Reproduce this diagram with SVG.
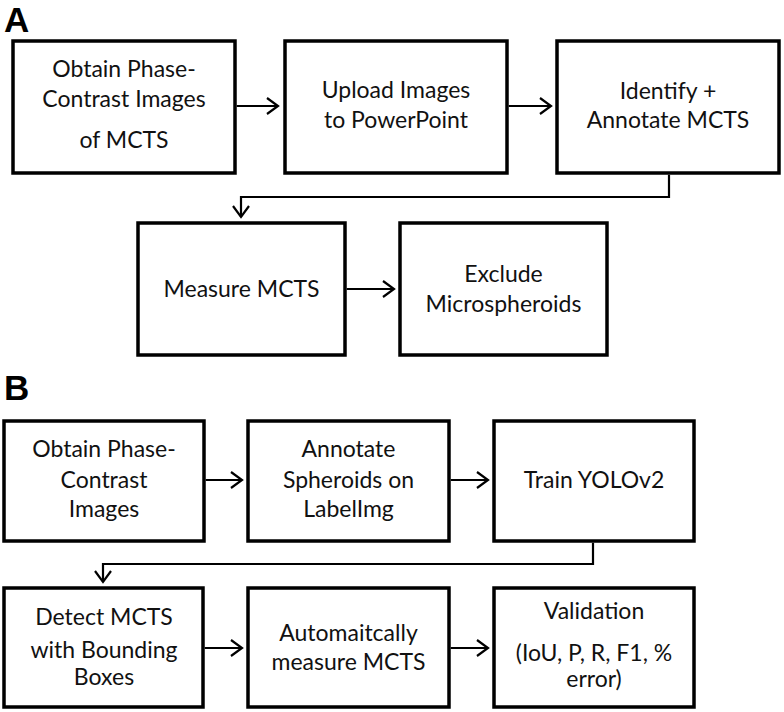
<svg xmlns="http://www.w3.org/2000/svg" width="784" height="712" viewBox="0 0 784 712">
<defs>
<style>
.box{fill:#fff;stroke:#000;stroke-width:3.5}
.t{font-family:Lato,"Liberation Sans",sans-serif;font-size:23px;fill:#111;text-anchor:middle}
.lbl{font-family:"Liberation Sans",Arial,sans-serif;font-weight:bold;font-size:35px;fill:#000}
.c{fill:none;stroke:#000;stroke-width:2.2}
</style>
<marker id="ah" markerWidth="14" markerHeight="18" refX="12" refY="9" orient="auto" markerUnits="userSpaceOnUse">
<path d="M1,1 L12,9 L1,17" fill="none" stroke="#000" stroke-width="2.2"/>
</marker>
</defs>
<rect width="784" height="712" fill="#fff"/>
<text class="lbl" x="4" y="32">A</text>
<text class="lbl" x="4" y="400">B</text>

<g id="a1"><rect class="box" x="13" y="41" width="222" height="132"/>
<text class="t" x="124" y="77">Obtain Phase-</text><text class="t" x="124" y="107">Contrast Images</text><text class="t" x="124" y="148">of MCTS</text></g>
<g id="a2"><rect class="box" x="285" y="41" width="222" height="132"/>
<text class="t" x="396" y="98">Upload Images</text><text class="t" x="396" y="128">to PowerPoint</text></g>
<g id="a3"><rect class="box" x="557" y="41" width="222" height="132"/>
<text class="t" x="668" y="99">Identify +</text><text class="t" x="668" y="128">Annotate MCTS</text></g>
<g id="a4"><rect class="box" x="138" y="223" width="207" height="132"/>
<text class="t" x="241.5" y="297">Measure MCTS</text></g>
<g id="a5"><rect class="box" x="400" y="223" width="207" height="132"/>
<text class="t" x="503.5" y="282">Exclude</text><text class="t" x="503.5" y="312">Microspheroids</text></g>

<g id="b1"><rect class="box" x="4" y="421" width="200" height="120"/>
<text class="t" x="104" y="457">Obtain Phase-</text><text class="t" x="104" y="488">Contrast</text><text class="t" x="104" y="517">Images</text></g>
<g id="b2"><rect class="box" x="248" y="421" width="201" height="120"/>
<text class="t" x="348.5" y="457">Annotate</text><text class="t" x="348.5" y="488">Spheroids on</text><text class="t" x="348.5" y="517">LabelImg</text></g>
<g id="b3"><rect class="box" x="494" y="421" width="200" height="120"/>
<text class="t" x="594" y="488">Train YOLOv2</text></g>
<g id="b4"><rect class="box" x="4" y="588" width="199" height="119"/>
<text class="t" x="104" y="625">Detect MCTS</text><text class="t" x="104" y="658">with Bounding</text><text class="t" x="104" y="685">Boxes</text></g>
<g id="b5"><rect class="box" x="248" y="588" width="201" height="119"/>
<text class="t" x="348.5" y="641">Automaitcally</text><text class="t" x="348.5" y="670">measure MCTS</text></g>
<g id="b6"><rect class="box" x="494" y="588" width="200" height="119"/>
<text class="t" x="594" y="619">Validation</text><text class="t" x="594" y="661">(IoU, P, R, F1, %</text><text class="t" x="594" y="687">error)</text></g>

<g id="connectors">
<path class="c" d="M236.7,106 H278" marker-end="url(#ah)"/>
<path class="c" d="M508.7,106 H551" marker-end="url(#ah)"/>
<path class="c" d="M669,174.7 V197 H241 V217" marker-end="url(#ah)"/>
<path class="c" d="M346.7,289 H394" marker-end="url(#ah)"/>
<path class="c" d="M205.7,480 H242" marker-end="url(#ah)"/>
<path class="c" d="M450.7,480 H488" marker-end="url(#ah)"/>
<path class="c" d="M593,542.7 V564 H103 V582" marker-end="url(#ah)"/>
<path class="c" d="M204.7,648 H242" marker-end="url(#ah)"/>
<path class="c" d="M450.7,648 H488" marker-end="url(#ah)"/>
</g>
</svg>
